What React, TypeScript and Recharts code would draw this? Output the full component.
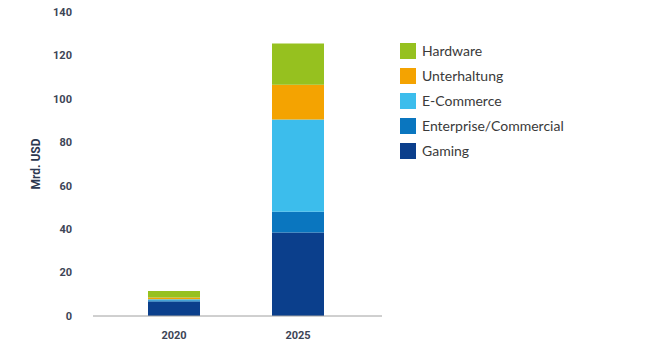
import { BarChart, Bar, XAxis, YAxis } from 'recharts';

const years = ['2020', '2025'];
const gaming = [6.7, 38.5];
const enterprise = [0.5, 9.5];
const eCommerce = [0.5, 42.5];
const unterhaltung = [0.8, 16];
const hardware = [3.0, 19];
const yTicks = [0, 20, 40, 60, 80, 100, 120, 140];

const SERIES = [
    { key: 'gaming', name: 'Gaming', color: '#0b3f8c', values: gaming },
    { key: 'enterprise', name: 'Enterprise/Commercial', color: '#0a76bf', values: enterprise },
    { key: 'eCommerce', name: 'E-Commerce', color: '#3cbdec', values: eCommerce },
    { key: 'unterhaltung', name: 'Unterhaltung', color: '#f4a301', values: unterhaltung },
    { key: 'hardware', name: 'Hardware', color: '#96c11f', values: hardware },
];

const data = years.map((year, i) => {
    const row: Record<string, string | number> = { year };
    SERIES.forEach((s) => {
        row[s.key] = s.values[i];
    });
    return row;
});

const tickStyle = { fontFamily: 'Roboto', fontWeight: 700, fontSize: 11, fill: '#3d4556' };

function LegendBox() {
    return (
        <div style={{ position: 'absolute', left: 400, top: 43, display: 'flex', flexDirection: 'column', gap: 9 }}>
            {[...SERIES].reverse().map((s) => (
                <div key={s.key} style={{ display: 'flex', alignItems: 'center', height: 16 }}>
                    <span
                        style={{ display: 'inline-block', width: 16, height: 16, backgroundColor: s.color }}
                    />
                    <span
                        style={{
                            marginLeft: 6,
                            fontFamily: 'Lato',
                            fontSize: 14,
                            color: '#3a3a3a',
                            lineHeight: '16px',
                        }}
                    >
                        {s.name}
                    </span>
                </div>
            ))}
        </div>
    );
}

function YLabel({ viewBox }: any) {
    const cy = viewBox.y + viewBox.height / 2;
    return (
        <text
            x={36}
            y={cy}
            transform={`rotate(-90, 36, ${cy})`}
            textAnchor="middle"
            dominantBaseline="central"
            style={{ fontFamily: 'Roboto', fontWeight: 700, fontSize: 12, fill: '#2c3850' }}
        >
            Mrd. USD
        </text>
    );
}

export default function App() {
    return (
        <div style={{ position: 'fixed', left: 0, top: 0, width: 650, height: 350, background: '#fff' }}>
            <BarChart
                width={650}
                height={350}
                data={data}
                margin={{ top: 12, right: 268, bottom: 0, left: 0 }}
            >
                <XAxis
                    dataKey="year"
                    height={34}
                    axisLine={{ stroke: '#a0a0a0' }}
                    tickLine={false}
                    tickSize={0}
                    tickMargin={15}
                    padding={{ left: 19, right: 22 }}
                    tick={tickStyle}
                />
                <YAxis
                    width={93}
                    domain={[0, 140]}
                    ticks={yTicks}
                    axisLine={false}
                    tickLine={false}
                    tickSize={0}
                    tickMargin={21}
                    tick={tickStyle}
                    label={<YLabel />}
                />
                {SERIES.map((s) => (
                    <Bar
                        key={s.key}
                        dataKey={s.key}
                        name={s.name}
                        stackId="a"
                        fill={s.color}
                        barSize={52}
                        isAnimationActive={false}
                    />
                ))}
            </BarChart>
            <LegendBox />
        </div>
    );
}
